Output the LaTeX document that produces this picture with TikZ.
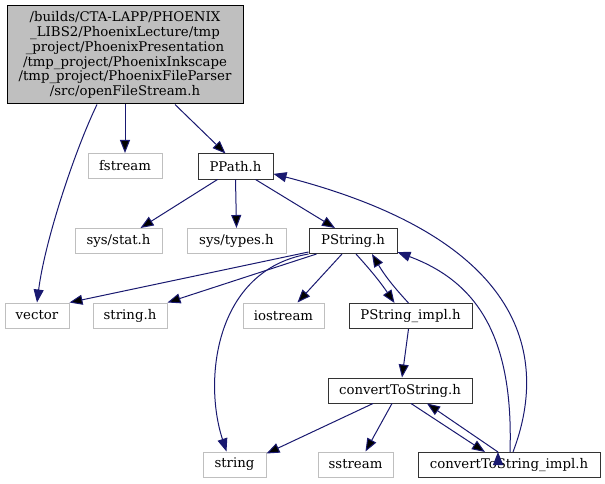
\documentclass[tikz,border=0pt]{standalone}
\usepackage{fontspec}
\setmainfont{DejaVu Serif}
\usepackage{xcolor}
\usetikzlibrary{arrows.meta}
\definecolor{linkblue}{HTML}{191970}
\definecolor{grey75}{HTML}{BFBFBF}

\begin{document}
\begin{tikzpicture}[x=1pt,y=-1pt,->,>={Triangle[length=13pt,width=10pt]},
                    line width=1pt]
  \tikzstyle{every node}=[font=\fontsize{13.3}{14.8}\selectfont,inner sep=0pt,
                          minimum height=25pt,line width=1pt]
  \tikzstyle{file}=[draw=black!80]
  \tikzstyle{sysfile}=[draw=grey75]
  \tikzstyle{link}=[draw=linkblue]

  \fill[white] (0,0) rectangle (605,484);
  \useasboundingbox (0,0) rectangle (605,484);

  \node[draw=black,fill=grey75,align=center,minimum width=236pt,minimum height=98pt]
        (main) at (125,55) {/builds/CTA-LAPP/PHOENIX\\\_LIBS2/PhoenixLecture/tmp\\\_project/PhoenixPresentation\\/tmp\_project/PhoenixInkscape\\/tmp\_project/PhoenixFileParser\\/src/openFileStream.h};
  \node[sysfile,minimum width=74pt]  (fstream)     at (125,166)   {fstream};
  \node[file,minimum width=75pt]     (PPath)       at (235.5,166.5) {PPath.h};
  \node[sysfile,minimum width=87pt]  (sysstat)     at (118.5,241) {sys/stat.h};
  \node[sysfile,minimum width=99pt]  (systypes)    at (236.5,241) {sys/types.h};
  \node[file,minimum width=88pt]     (PString)     at (353,241)   {PString.h};
  \node[sysfile,minimum width=64pt]  (vector)      at (37,315.5)  {vector};
  \node[sysfile,minimum width=74pt]  (stringh)     at (130,315.5) {string.h};
  \node[sysfile,minimum width=81pt]  (iostream)    at (283.5,315.5) {iostream};
  \node[file,minimum width=123pt]    (PStringimpl) at (410.5,316) {PString\_impl.h};
  \node[file,minimum width=144pt]    (convert)     at (400,390.5) {convertToString.h};
  \node[sysfile,minimum width=63pt]  (string)      at (234.5,464.5) {string};
  \node[sysfile,minimum width=75pt]  (sstream)     at (355.5,464.5) {sstream};
  \node[file,minimum width=182pt]    (convertimpl) at (509,465)   {convertToString\_impl.h};

  \path[link]
        (main.south) edge (fstream.north)
        ([xshift=50pt]main.south) edge ([xshift=-10pt]PPath.north)
        ([xshift=-18pt]PPath.south) edge ([xshift=22pt]sysstat.north)
        (PPath.south) edge (systypes.north)
        ([xshift=20pt]PPath.south) edge ([xshift=-18pt]PString.north)
        ([yshift=2pt]PString.south west) edge (vector.north east)
        ([xshift=8pt]PString.south west) edge (stringh.north east)
        ([xshift=-11pt]PString.south) edge ([xshift=14pt]iostream.north)
        ([xshift=3pt]PString.south) edge[bend left=4] ([xshift=-16pt]PStringimpl.north)
        ([xshift=-2pt]PStringimpl.north) edge[bend left=6] ([xshift=19pt]PString.south)
        ([xshift=-2pt]PStringimpl.south) edge ([xshift=2pt]convert.north)
        ([xshift=-27pt]convert.south) edge ([yshift=-2pt]string.north east)
        ([xshift=-8pt]convert.south) edge ([xshift=10pt]sstream.north)
        ([xshift=11pt]convert.south) edge ([xshift=-24pt]convertimpl.north)
        ([xshift=-11pt]convertimpl.north) edge ([xshift=27pt]convert.south);

  % curved links
  \draw[link] ([xshift=-28pt]main.south) .. controls (75,150) and (45,240) .. (vector.north);
  \draw[link] (PString.south west) .. controls (215,270) and (203,380) .. ([xshift=-8pt]string.north);
  \draw[link] ([xshift=1pt]convertimpl.north) .. controls (514,330) and (472,280) .. (PString.-14);
  \draw[link] ([xshift=4pt]convertimpl.north) .. controls (548,360) and (530,240) .. (PPath.-11);
\end{tikzpicture}
\end{document}
